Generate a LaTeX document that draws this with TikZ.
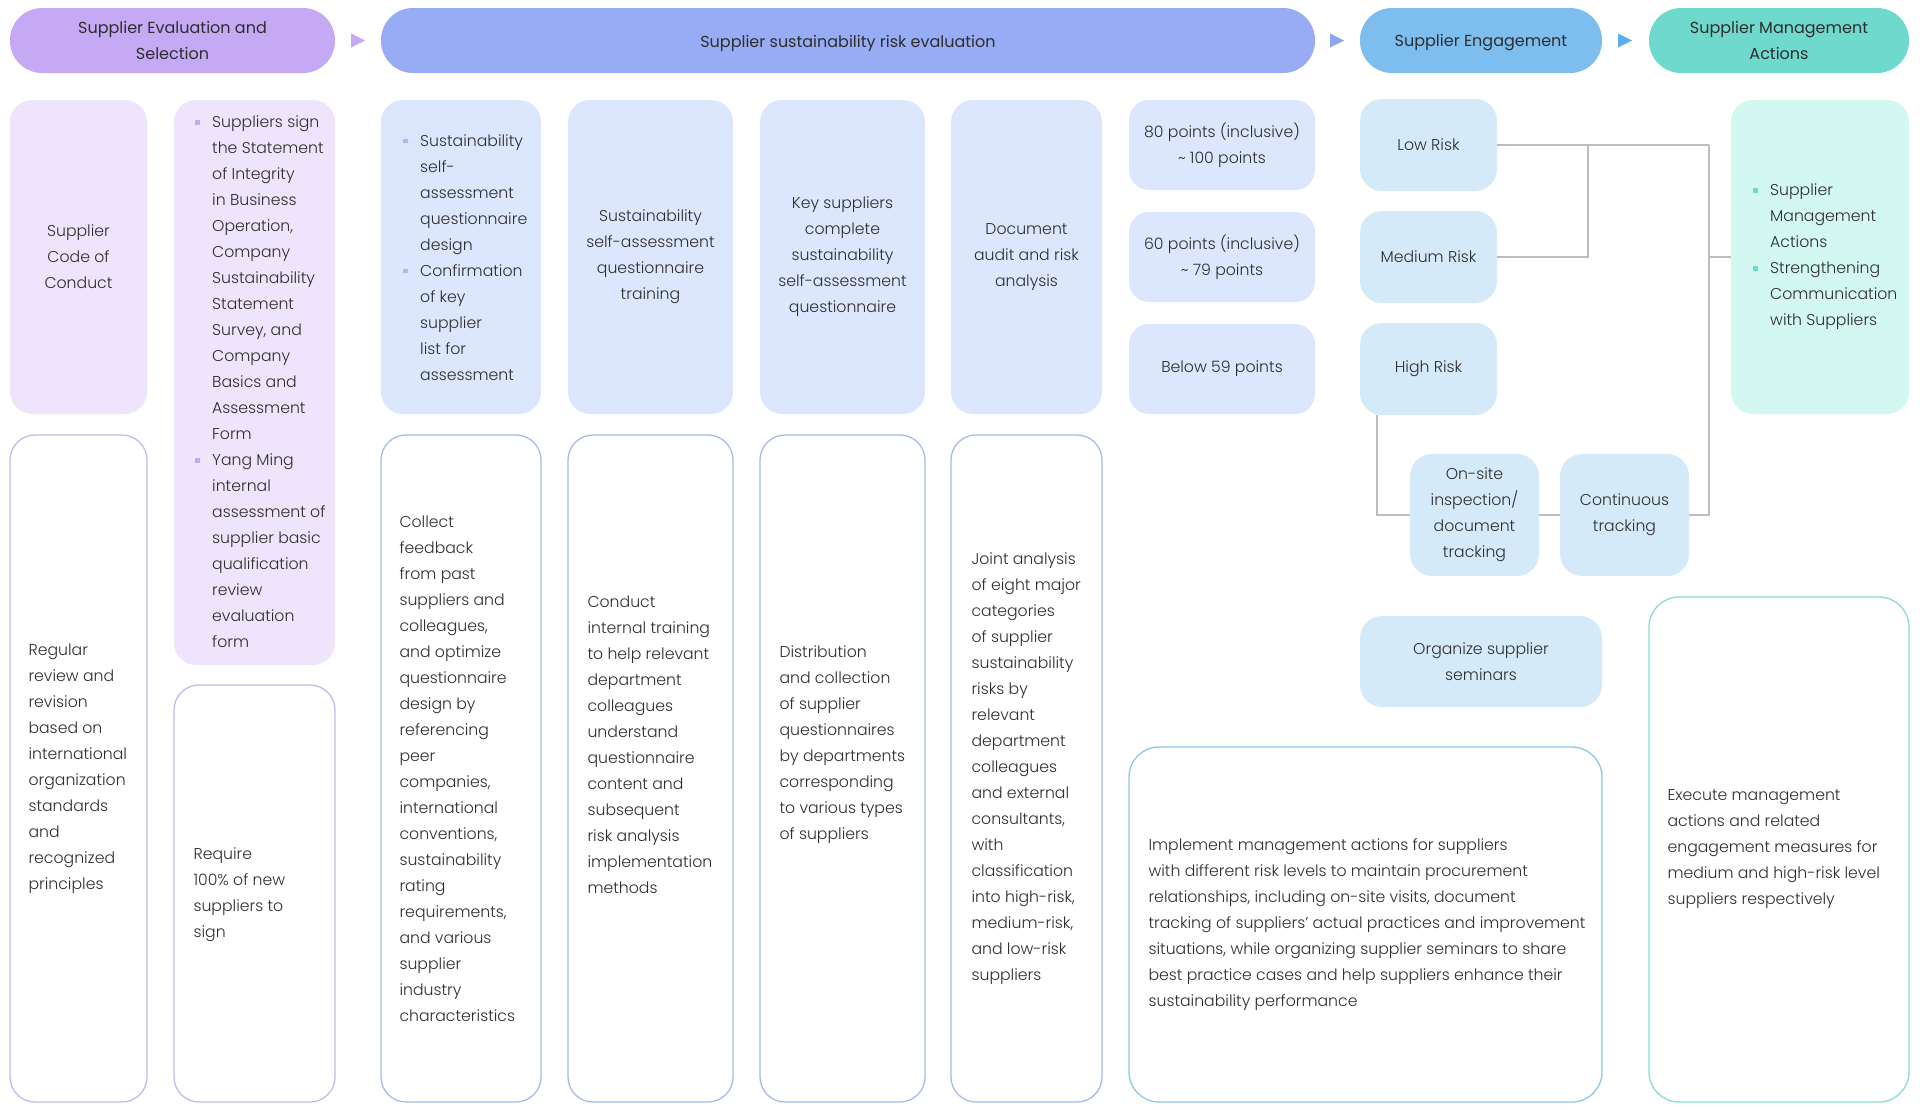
\documentclass[tikz,border=0pt]{standalone}
\usepackage{fontspec}
\setmainfont{Poppins Light}
\newfontfamily\hdfont{Poppins}
\definecolor{ink}{HTML}{2E2E2E}
\definecolor{h1c}{HTML}{C5A9F4}
\definecolor{h2c}{HTML}{97ACF4}
\definecolor{h3c}{HTML}{7DBEEF}
\definecolor{h4c}{HTML}{6FD9CE}
\definecolor{a2c}{HTML}{8AA6F2}
\definecolor{a3c}{HTML}{5BB0EC}
\definecolor{pl}{HTML}{EEE5FC}
\definecolor{bl}{HTML}{DCE6FD}
\definecolor{sl}{HTML}{D5EAF8}
\definecolor{tl}{HTML}{D3F7F1}
\definecolor{o1c}{HTML}{C8B6EE}
\definecolor{o2c}{HTML}{A8B9EA}
\definecolor{o3c}{HTML}{8CC8E6}
\definecolor{o4c}{HTML}{88DCD3}
\definecolor{bp}{HTML}{C5A9F4}
\definecolor{bb}{HTML}{A9BAF0}
\definecolor{bt}{HTML}{6FD9CE}
\definecolor{lnc}{HTML}{BDBDBD}
\newcommand{\bodyf}{\fontsize{15.7}{26}\selectfont}
\newcommand{\hdf}{\hdfont\fontsize{16}{26}\selectfont}
\newcommand{\bsq}[1]{\makebox[17pt][l]{\textcolor{#1}{\rule[3pt]{4.5pt}{4.5pt}}}}
\newcommand{\bind}{\hspace*{17pt}}
\begin{document}
\begin{tikzpicture}[x=1pt,y=-1pt,
  every node/.style={inner sep=0pt, text=ink, font=\bodyf},
  hdr/.style={rounded corners=32pt, minimum height=65pt, align=center, font=\hdf},
  hdt/.style={font=\hdf},
  fbox/.style={rounded corners=22pt, align=center},
  obox/.style={rounded corners=25pt, line width=1.3pt},
  txtl/.style={align=left, anchor=west},
  conn/.style={draw=lnc, line width=1.5pt}
]
\useasboundingbox (0,0) rectangle (1920,1109);

% headers
\node[hdr, fill=h1c, minimum width=325pt] (h1) at (172.5,40.5) {Supplier Evaluation and\\Selection};
\node[hdr, fill=h2c, minimum width=934pt] (h2) at (848,40.5) {};
\node[hdt] (h2t) at (848,43) {Supplier sustainability risk evaluation};
\node[hdr, fill=h3c, minimum width=242pt] (h3) at (1481,40.5) {};
\node[hdt] (h3t) at (1481,43) {Supplier Engagement};
\node[hdr, fill=h4c, minimum width=260pt] (h4) at (1779,40.5) {Supplier Management\\Actions};
\fill[h1c] ([xshift=16pt]h1.east) ++(0,-7) -- ++(14,7) -- ++(-14,7) -- cycle;
\fill[a2c] ([xshift=15pt]h2.east) ++(0,-7) -- ++(14,7) -- ++(-14,7) -- cycle;
\fill[a3c] ([xshift=16pt]h3.east) ++(0,-7) -- ++(14,7) -- ++(-14,7) -- cycle;

% row 1
\node[fbox, fill=pl, minimum width=137pt, minimum height=314pt] (b1) at (78.5,257) {Supplier\\Code of\\Conduct};
\node[fbox, fill=pl, minimum width=161pt, minimum height=565pt] (b2) at (254.5,382.5) {};
\node[txtl] (b2t) at (195,382) {\bsq{bp}Suppliers sign\\\bind the Statement\\\bind of Integrity\\\bind in Business\\\bind Operation,\\\bind Company\\\bind Sustainability\\\bind Statement\\\bind Survey, and\\\bind Company\\\bind Basics and\\\bind Assessment\\\bind Form\\\bsq{bp}Yang Ming\\\bind internal\\\bind assessment of\\\bind supplier basic\\\bind qualification\\\bind review\\\bind evaluation\\\bind form};
\node[fbox, fill=bl, minimum width=160pt, minimum height=314pt] (b3) at (461,257) {};
\node[txtl] (b3t) at (403,257.5) {\bsq{bb}Sustainability\\\bind self-\\\bind assessment\\\bind questionnaire\\\bind design\\\bsq{bb}Confirmation\\\bind of key\\\bind supplier\\\bind list for\\\bind assessment};
\node[fbox, fill=bl, minimum width=165pt, minimum height=314pt] (b4) at (650.5,257) {Sustainability\\self-assessment\\questionnaire\\training};
\node[fbox, fill=bl, minimum width=165pt, minimum height=314pt] (b5) at (842.5,257) {Key suppliers\\complete\\sustainability\\self-assessment\\questionnaire};
\node[fbox, fill=bl, minimum width=151pt, minimum height=314pt] (b6) at (1026.5,257) {Document\\audit and risk\\analysis};
\node[fbox, fill=bl, rounded corners=20pt, minimum width=186pt, minimum height=90pt] (s1) at (1222,145) {80 points (inclusive)\\\textasciitilde{} 100 points};
\node[fbox, fill=bl, rounded corners=20pt, minimum width=186pt, minimum height=90pt] (s2) at (1222,257) {60 points (inclusive)\\\textasciitilde{} 79 points};
\node[fbox, fill=bl, rounded corners=20pt, minimum width=186pt, minimum height=90pt] (s3) at (1222,369) {Below 59 points};
\node[fbox, fill=sl, minimum width=137pt, minimum height=92pt] (r1) at (1428.5,145) {Low Risk};
\node[fbox, fill=sl, minimum width=137pt, minimum height=92pt] (r2) at (1428.5,257) {Medium Risk};
\node[fbox, fill=sl, minimum width=137pt, minimum height=92pt] (r3) at (1428.5,369) {High Risk};
\node[fbox, fill=tl, minimum width=178pt, minimum height=314pt] (t) at (1820,257) {};
\node[txtl] (tt) at (1753,257) {\bsq{bt}Supplier\\\bind Management\\\bind Actions\\\bsq{bt}Strengthening\\\bind Communication\\\bind with Suppliers};

% engagement boxes
\node[fbox, fill=sl, minimum width=129pt, minimum height=122pt] (o) at (1474.5,515) {On-site\\inspection/\\document\\tracking};
\node[fbox, fill=sl, minimum width=129pt, minimum height=122pt] (c) at (1624.5,515) {Continuous\\tracking};
\node[fbox, fill=sl, minimum width=242pt, minimum height=91pt] (sem) at (1481,661.5) {Organize supplier\\seminars};

% row 2 outline boxes
\node[obox, draw=o1c, minimum width=137pt, minimum height=667pt] (b1b) at (78.5,768.5) {};
\node[txtl] (b1bt) at ([xshift=19pt]b1b.west) {Regular\\review and\\revision\\based on\\international\\organization\\standards\\and\\recognized\\principles};
\node[obox, draw=o1c, minimum width=161pt, minimum height=417pt] (b2b) at (254.5,893.5) {};
\node[txtl] (b2bt) at ([xshift=20pt,yshift=-1.5pt]b2b.west) {Require\\100\% of new\\suppliers to\\sign};
\node[obox, draw=o2c, minimum width=160pt, minimum height=667pt] (b3b) at (461,768.5) {};
\node[txtl] (b3bt) at ([xshift=19pt]b3b.west) {Collect\\feedback\\from past\\suppliers and\\colleagues,\\and optimize\\questionnaire\\design by\\referencing\\peer\\companies,\\international\\conventions,\\sustainability\\rating\\requirements,\\and various\\supplier\\industry\\characteristics};
\node[obox, draw=o2c, minimum width=165pt, minimum height=667pt] (b4b) at (650.5,768.5) {};
\node[txtl] (b4bt) at ([xshift=20pt,yshift=24pt]b4b.west) {Conduct\\internal training\\to help relevant\\department\\colleagues\\understand\\questionnaire\\content and\\subsequent\\risk analysis\\implementation\\methods};
\node[obox, draw=o2c, minimum width=165pt, minimum height=667pt] (b5b) at (842.5,768.5) {};
\node[txtl] (b5bt) at ([xshift=20pt,yshift=24pt]b5b.west) {Distribution\\and collection\\of supplier\\questionnaires\\by departments\\corresponding\\to various types\\of suppliers};
\node[obox, draw=o2c, minimum width=151pt, minimum height=667pt] (b6b) at (1026.5,768.5) {};
\node[txtl] (b6bt) at ([xshift=21pt]b6b.west) {Joint analysis\\of eight major\\categories\\of supplier\\sustainability\\risks by\\relevant\\department\\colleagues\\and external\\consultants,\\with\\classification\\into high-risk,\\medium-risk,\\and low-risk\\suppliers};
\node[obox, draw=o3c, rounded corners=30pt, minimum width=473pt, minimum height=355pt] (eng) at (1365.5,924.5) {};
\node[txtl] (engt) at ([xshift=20pt]eng.west) {Implement management actions for suppliers\\with different risk levels to maintain procurement\\relationships, including on-site visits, document\\tracking of suppliers' actual practices and improvement\\situations, while organizing supplier seminars to share\\best practice cases and help suppliers enhance their\\sustainability performance};
\node[obox, draw=o4c, rounded corners=30pt, minimum width=260pt, minimum height=505pt] (mg) at (1779,849.5) {};
\node[txtl] (mgt) at ([xshift=19pt]mg.west) {Execute management\\actions and related\\engagement measures for\\medium and high-risk level\\suppliers respectively};

% connectors
\coordinate (j1) at (1709,145);
\coordinate (j2) at (1588,145);
\draw[conn] (r1.east) -- (j1);
\draw[conn] (r2.east) -| (j2);
\draw[conn] (c.east) -| (j1);
\draw[conn] (t.west) -- (t.west -| j1);
\draw[conn] ([xshift=17pt]r3.south west) |- (o.west);
\draw[conn] (o.east) -- (c.west);
\end{tikzpicture}
\end{document}
